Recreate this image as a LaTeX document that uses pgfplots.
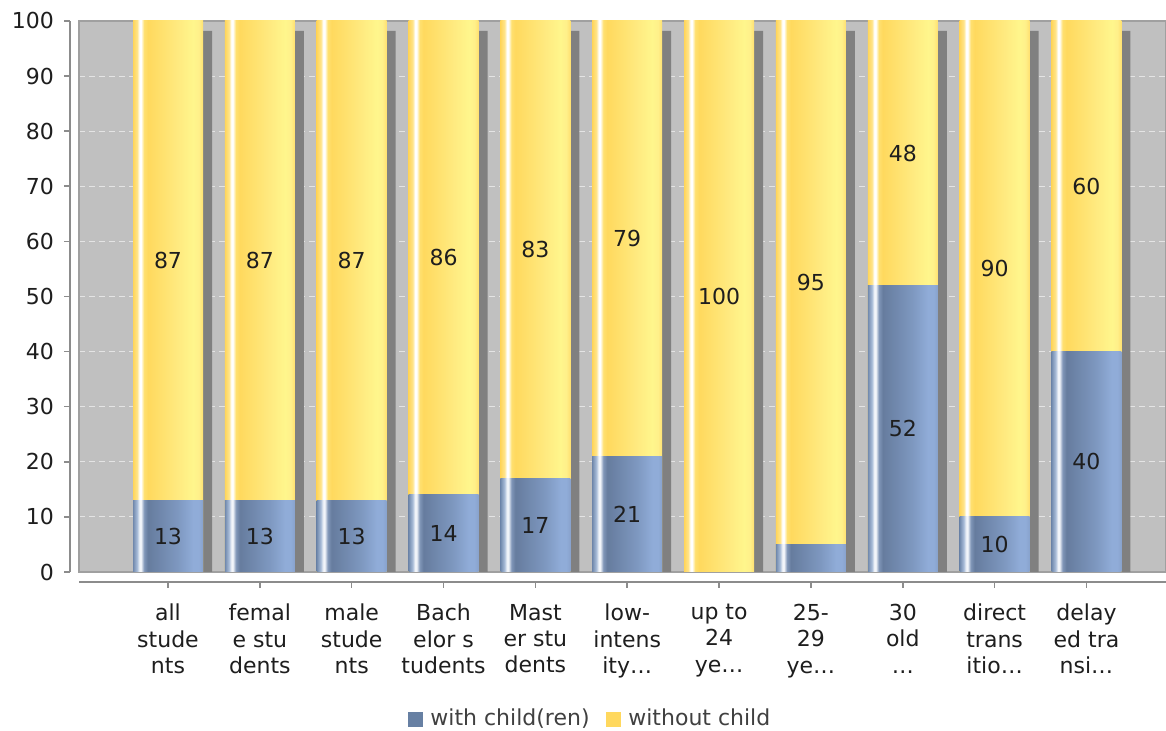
\documentclass[border=0pt]{standalone}
\usepackage{fontspec}
\setmainfont{DejaVu Sans}
\usepackage{pgfplots}
\usepackage{pgfplotstable}
\pgfplotsset{compat=1.18}

\definecolor{plotbg}{HTML}{C0C0C0}
\definecolor{shadowgray}{HTML}{808080}
\definecolor{axgray}{HTML}{8C8C8C}
\definecolor{bordergray}{HTML}{A0A0A0}
\definecolor{gridc}{HTML}{E4E4E4}
\definecolor{legblue}{HTML}{6780A3}
\definecolor{legyellow}{HTML}{FFD85E}
\definecolor{txt}{HTML}{1E1E1E}

% yellow bar colours, left to right
\definecolor{ya}{HTML}{FFD55A}
\definecolor{yb}{HTML}{FFE48A}
\definecolor{yc}{HTML}{FFE070}
\definecolor{yd}{HTML}{FFD95E}
\definecolor{ye}{HTML}{FFEA80}
\definecolor{yf}{HTML}{FFF68C}
\definecolor{yg}{HTML}{FFF08A}
\definecolor{yh}{HTML}{FFE070}
% blue bar colours
\definecolor{ba}{HTML}{7088AC}
\definecolor{bb}{HTML}{A8BCD8}
\definecolor{bw}{HTML}{F2F5FA}
\definecolor{bc}{HTML}{8096B8}
\definecolor{bd}{HTML}{667C9E}
\definecolor{be}{HTML}{7E98C0}
\definecolor{bf}{HTML}{90ACD8}
\definecolor{bg}{HTML}{88A2CC}

% stops: 25bp = left edge of a bar, 75bp = right edge
\pgfdeclarehorizontalshading{yellowbar}{100bp}{color(0bp)=(ya); color(25bp)=(ya);
  color(27.9bp)=(yb); color(29.6bp)=(white); color(30.7bp)=(white); color(32.9bp)=(yc);
  color(35.7bp)=(yd); color(57bp)=(ye); color(68bp)=(yf); color(72bp)=(yg);
  color(75bp)=(yh); color(100bp)=(yh)}
\pgfdeclarehorizontalshading{bluebar}{100bp}{color(0bp)=(ba); color(25bp)=(ba);
  color(27.9bp)=(bb); color(29.6bp)=(bw); color(30.7bp)=(bw); color(32.9bp)=(bc);
  color(35.7bp)=(bd); color(57bp)=(be); color(68bp)=(bf); color(72bp)=(bf);
  color(75bp)=(bg); color(100bp)=(bg)}

% share of students with / without child(ren)
\pgfplotstableread{
x  with  without
0  13    87
1  13    87
2  13    87
3  14    86
4  17    83
5  21    79
6  0     100
7  5     95
8  52    48
9  10    90
10 40    60
}\data

\pgfplotsset{
  base/.style={
    width=543.5pt, height=275.5pt, scale only axis,
    at={(39.5pt,79.5pt)}, anchor=south west,
    xmin=-0.969, xmax=10.866, ymin=0, ymax=100,
  },
}

\begin{document}
\begin{tikzpicture}
\fill[white] (0,0) rectangle (583pt,365.5pt);
\path[use as bounding box] (0,0) rectangle (583pt,365.5pt);

% background, grid and bar shadows
\begin{axis}[base,
  axis background/.style={fill=plotbg},
  axis line style={draw=bordergray, line width=0.6pt},
  xtick=\empty, ytick={10,20,...,90}, yticklabels={},
  major tick length=0pt,
  ymajorgrids, grid style={gridc, dash pattern=on 3pt off 2pt, line width=0.5pt},
  ybar, bar width=35pt, bar shift=4.5pt,
]
\addplot[fill=shadowgray, draw=none, yshift=-5pt]
  table[x=x, y expr=\thisrow{with}+\thisrow{without}] {\data};
\end{axis}

% bars: one plot per bar so each gets its own shading
% (yellow drawn over the full height, blue on top of it from 0)
\begin{axis}[base, hide axis,
  ybar, bar width=35pt, bar shift=0pt,
  legend style={at={(0.471,-0.267)}, anchor=center, draw=none, fill=none,
    legend columns=2, font=\fontsize{11}{13}\selectfont, text=txt!85,
    /tikz/every even column/.append style={column sep=6pt}},
]
\pgfplotsinvokeforeach{0,...,10}{
  \addplot[forget plot, draw=none, shade, shading=yellowbar, restrict x to domain=#1:#1]
    table[x=x, y expr=\thisrow{with}+\thisrow{without}] {\data};
  \addplot[forget plot, draw=none, shade, shading=bluebar, restrict x to domain=#1:#1,
    restrict y to domain=0.5:100]
    table[x=x, y=with] {\data};
}
\addlegendimage{legend image code/.code={\fill[legblue] (0pt,-3.6pt) rectangle (7.2pt,3.6pt);
  \path (9pt,0pt);}}
\addlegendentry{with child(ren)}
\addlegendimage{legend image code/.code={\fill[legyellow] (0pt,-3.6pt) rectangle (7.2pt,3.6pt);
  \path (9pt,0pt);}}
\addlegendentry{without child}
\end{axis}

% axes, ticks and value labels
\begin{axis}[base,
  axis lines*=left,
  axis line style={axgray, line width=0.8pt, -},
  x axis line style={yshift=-5pt},
  y axis line style={xshift=-4.5pt},
  xtick style={axgray, line width=0.8pt, yshift=-5pt},
  ytick style={axgray, line width=0.8pt, xshift=-4.5pt},
  tick align=outside, major tick length=3pt,
  ytick={0,10,...,100},
  xtick={0,...,10},
  xticklabels={{all\\stude\\nts}, {femal\\e stu\\dents}, {male\\stude\\nts},
    {Bach\\elor s\\tudents}, {Mast\\er stu\\dents}, {low-\\intens\\ity\ldots},
    {up to\\24\\ye\ldots}, {25-\\29\\ye\ldots}, {30\\old\\\ldots},
    {direct\\trans\\itio\ldots}, {delay\\ed tra\\nsi\ldots}},
  xticklabel style={align=center, anchor=north, text=txt, yshift=-9.5pt,
    font=\fontsize{11}{13.2}\selectfont},
  yticklabel style={anchor=east, text=txt, xshift=-6pt, font=\fontsize{11}{13}\selectfont},
  /pgf/number format/assume math mode=true,
]
\addplot[draw=none, nodes near coords, point meta=explicit symbolic,
  every node near coord/.style={anchor=center, text=txt, font=\fontsize{11}{13}\selectfont}]
  coordinates {
  (0,6.5)[13] (1,6.5)[13] (2,6.5)[13] (3,7)[14] (4,8.5)[17] (5,10.5)[21]
  (8,26)[52] (9,5)[10] (10,20)[40]
  (0,56.5)[87] (1,56.5)[87] (2,56.5)[87] (3,57)[86] (4,58.5)[83] (5,60.5)[79]
  (6,50)[100] (7,52.5)[95] (8,76)[48] (9,55)[90] (10,70)[60]};
\end{axis}
\end{tikzpicture}
\end{document}
